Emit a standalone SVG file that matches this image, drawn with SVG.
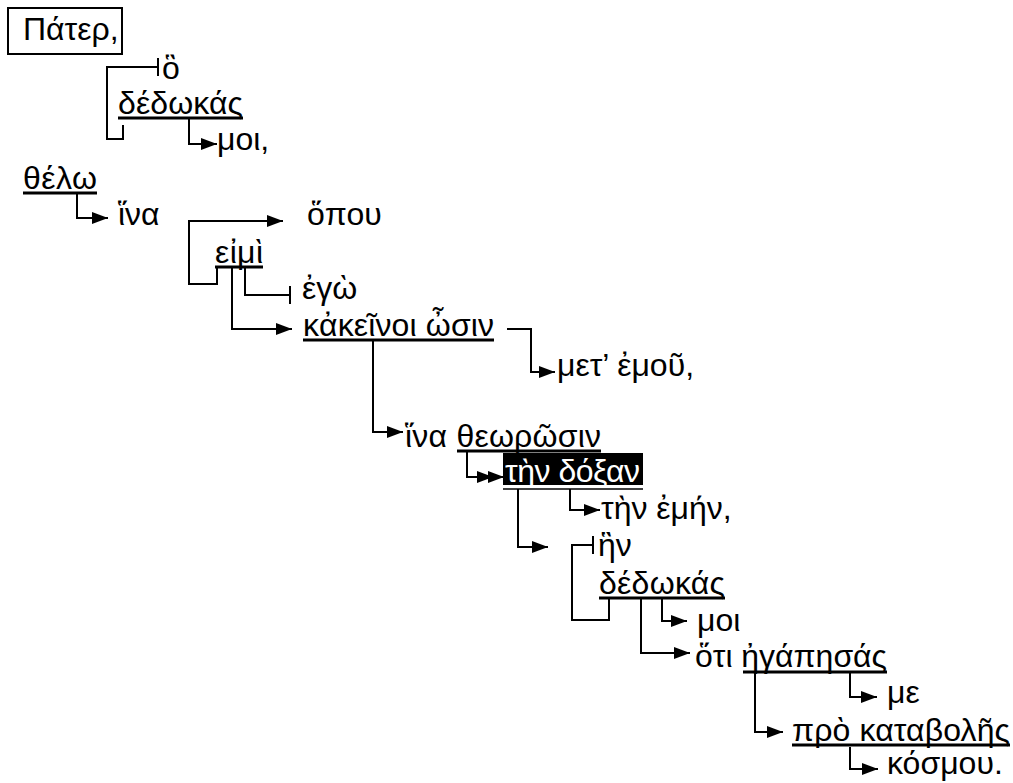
<svg xmlns="http://www.w3.org/2000/svg" width="1013" height="783" viewBox="0 0 1013 783">
<defs>
<marker id="arr" markerUnits="userSpaceOnUse" markerWidth="16" markerHeight="12" refX="16" refY="6" viewBox="0 0 16 12" orient="auto"><path d="M0,0 L16,6 L0,12 z" fill="#000"/></marker>
<marker id="tick" markerUnits="userSpaceOnUse" markerWidth="4" markerHeight="18" refX="2" refY="9" viewBox="0 0 4 18" orient="auto"><path d="M2,0 V18" stroke="#000" stroke-width="2"/></marker>
</defs>
<style>
text{font-family:"Liberation Sans",Arial,sans-serif;font-size:32px;fill:#000}
.c{fill:none;stroke:#000;stroke-width:2}
.a{marker-end:url(#arr)}
.t{marker-end:url(#tick)}
.u{stroke:#000;stroke-width:3}
</style>
<rect width="1013" height="783" fill="#fff"/>
<g id="n-pater"><rect x="8" y="8" width="114" height="46" fill="none" stroke="#000" stroke-width="2"/><text x="23" y="40">Πάτερ,</text></g>
<g id="n-ho"><text x="162" y="79">ὃ</text></g>
<g id="n-dedokas1"><text x="118" y="114" textLength="125">δέδωκάς</text><line class="u" x1="118" y1="118" x2="243" y2="118"/></g>
<g id="n-moi1"><text x="217" y="150">μοι,</text></g>
<g id="n-thelo"><text x="23" y="189" textLength="74">θέλω</text><line class="u" x1="23" y1="193" x2="97" y2="193"/></g>
<g id="n-hina1"><text x="118" y="225">ἵνα</text></g>
<g id="n-hopou"><text x="307" y="225">ὅπου</text></g>
<g id="n-eimi"><text x="215" y="263" textLength="48">εἰμὶ</text><line class="u" x1="215" y1="267" x2="263" y2="267"/></g>
<g id="n-ego"><text x="302" y="299">ἐγὼ</text></g>
<g id="n-kakeinoi"><text x="303" y="336" textLength="191">κἀκεῖνοι ὦσιν</text><line class="u" x1="303" y1="340" x2="494" y2="340"/></g>
<g id="n-met"><text x="557" y="376">μετ’ ἐμοῦ,</text></g>
<g id="n-hina2"><text x="405" y="447" textLength="196">ἵνα θεωρῶσιν</text><line class="u" x1="457" y1="451" x2="601" y2="451"/></g>
<g id="n-doxan"><rect x="503" y="453" width="140" height="32" fill="#000"/><text x="505" y="482" textLength="135" style="fill:#fff">τὴν δόξαν</text><line x1="503" y1="489" x2="643" y2="489" stroke="#000" stroke-width="1.5"/></g>
<g id="n-emen"><text x="601" y="519">τὴν ἐμήν,</text></g>
<g id="n-hen"><text x="598" y="556">ἣν</text></g>
<g id="n-dedokas2"><text x="599" y="594" textLength="126">δέδωκάς</text><line class="u" x1="599" y1="598" x2="725" y2="598"/></g>
<g id="n-moi2"><text x="697" y="631">μοι</text></g>
<g id="n-hoti"><text x="695" y="667" textLength="192">ὅτι ἠγάπησάς</text><line class="u" x1="743" y1="672" x2="887" y2="672"/></g>
<g id="n-me"><text x="887" y="703">με</text></g>
<g id="n-pro"><text x="792" y="741" textLength="218">πρὸ καταβολῆς</text><line class="u" x1="792" y1="745" x2="1010" y2="745"/></g>
<g id="n-kosmou"><text x="887" y="774">κόσμου.</text></g>
<g id="connectors">
<path class="c t" d="M123,125 V139 H107 V67 H158"/>
<path class="c a" d="M189,118 V144 H217"/>
<path class="c a" d="M77,193 V218 H108"/>
<path class="c a" d="M217,267 V284 H189 V221 H283"/>
<path class="c t" d="M245,267 V295 H290"/>
<path class="c a" d="M232,267 V329 H292"/>
<path class="c a" d="M507,329 H531 V372 H555"/>
<path class="c a" d="M373,340 V432 H403"/>
<path class="c a" d="M467,451 V477 H493"/>
<path class="c a" d="M493,477 H504"/>
<path class="c a" d="M570,489 V510 H600"/>
<path class="c a" d="M518,489 V547 H548"/>
<path class="c t" d="M609,598 V620 H572 V545 H593"/>
<path class="c a" d="M662,598 V621 H687"/>
<path class="c a" d="M641,598 V653 H690"/>
<path class="c a" d="M850,672 V697 H877"/>
<path class="c a" d="M755,672 V732 H783"/>
<path class="c a" d="M850,747 V769 H878"/>
</g>
</svg>
